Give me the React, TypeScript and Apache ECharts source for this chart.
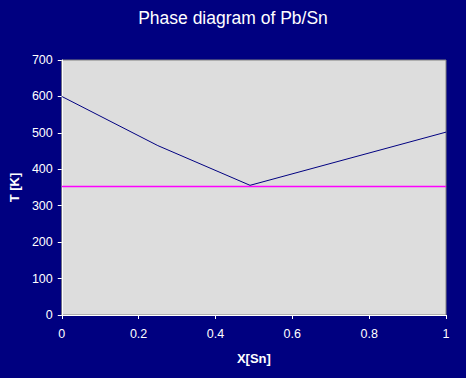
import React, { useEffect, useRef } from "react";
import * as echarts from "echarts";

const liquidusX = [0, 0.25, 0.49, 1];
const liquidusT = [600, 465, 356, 502];
const eutecticX = [0, 1];
const eutecticT = [353, 353];
const xTicks = [0, 0.2, 0.4, 0.6, 0.8, 1];
const yTicks = [0, 100, 200, 300, 400, 500, 600, 700];

export default function App() {
  const ref = useRef<HTMLDivElement>(null);
  useEffect(() => {
    const chart = echarts.init(ref.current!, null, { renderer: "svg" });
    const font = "Arial, 'Liberation Sans', sans-serif";
    chart.setOption({
      animation: false,
      backgroundColor: "#000080",
      title: {
        text: "Phase diagram of Pb/Sn",
        left: "center",
        top: 4,
        textStyle: { color: "#ffffff", fontSize: 17.5, fontWeight: "normal", fontFamily: font },
      },
      grid: {
        left: 60,
        top: 60,
        width: 386,
        height: 255,
        show: true,
        backgroundColor: "#dddddd",
        borderColor: "#808080",
        borderWidth: 1,
      },
      xAxis: {
        type: "value",
        min: xTicks[0],
        max: xTicks[xTicks.length - 1],
        interval: 0.2,
        name: "X[Sn]",
        nameLocation: "middle",
        nameGap: 37,
        nameTextStyle: { color: "#ffffff", fontSize: 13, fontWeight: "bold", fontFamily: font },
        axisLine: { show: true, onZero: false, lineStyle: { color: "#ffffff", width: 1 } },
        axisTick: { show: true, length: 4, lineStyle: { color: "#ffffff" } },
        axisLabel: {
          color: "#ffffff",
          fontSize: 12.5,
          fontFamily: font,
          margin: 12,
          formatter: (v: number) => String(Math.round(v * 10) / 10),
        },
        splitLine: { show: false },
      },
      yAxis: {
        type: "value",
        min: yTicks[0],
        max: yTicks[yTicks.length - 1],
        interval: 100,
        name: "T [K]",
        nameLocation: "middle",
        nameGap: 40,
        nameRotate: 90,
        nameTextStyle: { color: "#ffffff", fontSize: 13, fontWeight: "bold", fontFamily: font },
        axisLine: { show: true, lineStyle: { color: "#ffffff", width: 1 } },
        axisTick: { show: true, length: 4, lineStyle: { color: "#ffffff" } },
        axisLabel: { color: "#ffffff", fontSize: 12.5, fontFamily: font, margin: 9 },
        splitLine: { show: false },
      },
      series: [
        {
          type: "line",
          data: liquidusX.map((x, i) => [x, liquidusT[i]]),
          symbol: "none",
          lineStyle: { color: "#000080", width: 1 },
          z: 3,
        },
        {
          type: "line",
          data: eutecticX.map((x, i) => [x, eutecticT[i]]),
          symbol: "none",
          lineStyle: { color: "#ff00ff", width: 1.5 },
          z: 2,
        },
      ],
    });
    return () => chart.dispose();
  }, []);
  return <div ref={ref} style={{ width: 466, height: 378, position: "absolute", left: 0, top: 0 }} />;
}
